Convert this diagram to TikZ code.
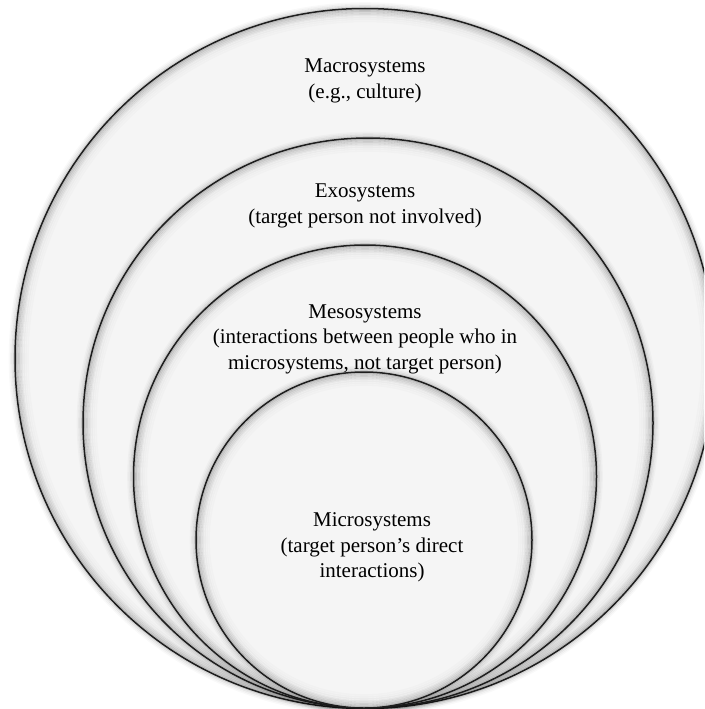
\documentclass[tikz,border=0pt]{standalone}
\usepackage{fontspec}
\setmainfont{Liberation Serif}
\begin{document}
\begin{tikzpicture}[x=1pt,y=-1pt,
  label/.style={align=center, inner sep=0pt, text=black,
    font=\fontsize{21}{25.5}\selectfont}]
\definecolor{discfill}{HTML}{F5F5F5}
\definecolor{rimline}{HTML}{1E1E1E}
% page frame
\fill[white] (0,0) rectangle (704,709);
\useasboundingbox (0,0) rectangle (704,709);
\clip (0,0) rectangle (704,709);
% one system disc: filled, with a soft shadow around its rim
\newcommand\sysdisc[3]{%
  \fill[discfill] (#1,#2) circle [radius=#3pt];
  \foreach \d/\o in {1/0.22, 2.5/0.16, 4/0.12, 5.5/0.09, 7/0.06, 9/0.04, 11/0.025, 13/0.015}
    {\draw[black, opacity=\o, line width=1.6pt] (#1,#2) circle [radius={(#3-\d)*1pt}];}
  \foreach \d/\o in {1/0.16, 2.5/0.09, 4/0.05, 5.5/0.025}
    {\draw[black, opacity=\o, line width=1.6pt] (#1,#2) circle [radius={(#3+\d)*1pt}];}
  \draw[rimline, line width=1.5pt] (#1,#2) circle [radius=#3pt];}
% nested systems, largest first
\sysdisc{365}{358.5}{350}
\sysdisc{368}{423}{285}
\sysdisc{365}{476.5}{231.5}
\sysdisc{364}{540}{168}
% labels
\node[label] (macro) at (365,81) {Macrosystems\\(e.g., culture)};
\node[label] (exo) at (365,206) {Exosystems\\(target person not involved)};
\node[label] (meso) at (365,339) {Mesosystems\\(interactions between people who in\\microsystems, not target person)};
\node[label] (micro) at (372,547.5) {Microsystems\\(target person’s direct\\interactions)};
\end{tikzpicture}
\end{document}
